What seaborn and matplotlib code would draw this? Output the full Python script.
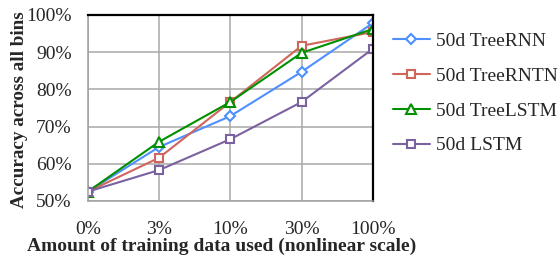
import pandas as pd
import matplotlib
matplotlib.use("Agg")
import matplotlib.pyplot as plt
import seaborn as sns

FRACTIONS = ["0%", "3%", "10%", "30%", "100%"]
TREE_RNN   = [52.5, 64.5, 72.8, 84.7, 97.8]
TREE_RNTN  = [52.5, 61.6, 76.6, 91.7, 95.4]
TREE_LSTM  = [52.5, 65.9, 76.6, 89.8, 96.2]
LSTM       = [52.5, 58.3, 66.6, 76.6, 90.9]

MODELS = ["50d TreeRNN", "50d TreeRNTN", "50d TreeLSTM", "50d LSTM"]
COLORS = ["#4f8fff", "#d0655c", "#009000", "#7a62a0"]
MARKERS = ["D", "s", "^", "s"]
SIZES = [5, 6, 7.5, 6]

rows = []
for name, vals in zip(MODELS, [TREE_RNN, TREE_RNTN, TREE_LSTM, LSTM]):
    for i, (f, v) in enumerate(zip(FRACTIONS, vals)):
        rows.append({"model": name, "pos": i, "acc": v})
df = pd.DataFrame(rows)

sns.set_style("white")
plt.rcParams["font.family"] = ["Liberation Serif", "DejaVu Serif"]

fig = plt.figure(figsize=(5.59, 2.57), dpi=100)
ax = fig.add_axes([0.157, 0.218, 0.51, 0.724])

for name, color, marker, ms in zip(MODELS, COLORS, MARKERS, SIZES):
    sub = df[df["model"] == name]
    sns.lineplot(data=sub, x="pos", y="acc", ax=ax, color=color, marker=marker,
                 markersize=ms, markerfacecolor="white", markeredgecolor=color,
                 markeredgewidth=1.5, linewidth=1.5, label=name)

ax.set_xlim(0, 4)
ax.set_ylim(50, 100)
ax.set_xticks(range(len(FRACTIONS)))
ax.set_xticklabels(FRACTIONS)
ax.set_yticks(range(50, 101, 10))
ax.set_yticklabels([f"{v}%" for v in range(50, 101, 10)])
ax.tick_params(axis="y", labelsize=14, length=0, pad=11.5)
ax.tick_params(axis="x", labelsize=14, length=0, pad=14.5)
ax.grid(True, color="#a8a8a8", linewidth=1.1)
ax.set_axisbelow(True)
for s in ["left", "bottom"]:
    ax.spines[s].set_color("#a0a0a0")
    ax.spines[s].set_linewidth(1.1)
for s in ["top", "right"]:
    ax.spines[s].set_color("black")
    ax.spines[s].set_linewidth(1.6)

ax.set_xlabel("Amount of training data used (nonlinear scale)", fontsize=14,
              fontweight="bold")
ax.xaxis.set_label_coords(0.47, -0.198)
ax.set_ylabel("Accuracy across all bins", fontsize=13.8, fontweight="bold")
ax.yaxis.set_label_coords(-0.21, 0.49)

ax.legend(loc="upper left", bbox_to_anchor=(1.07, 0.905), frameon=False,
          fontsize=14, handlelength=1.9, labelspacing=0.88, handletextpad=0.3,
          borderpad=0, borderaxespad=0)

fig.savefig("out.png", dpi=100)
